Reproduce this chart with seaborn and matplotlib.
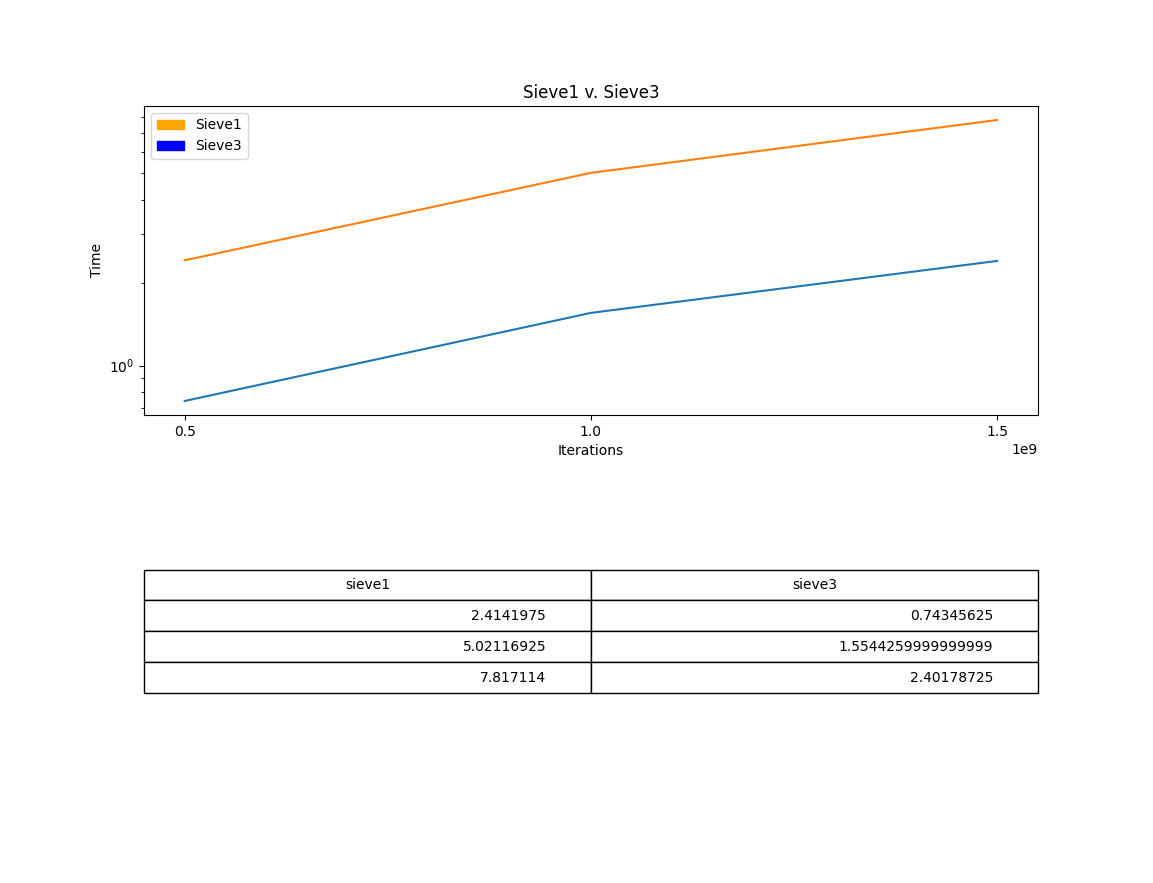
import matplotlib
matplotlib.use("Agg")
import matplotlib.pyplot as plt
import matplotlib.patches as mpatches
import seaborn as sns

iterations = [500000000, 1000000000, 1500000000]
sieve1 = [2.4141975, 5.02116925, 7.817114]
sieve3 = [0.74345625, 1.5544259999999999, 2.40178725]
col_labels = ["sieve1", "sieve3"]

fig, ax = plt.subplots(figsize=(11.53, 8.83), dpi=100)
fig.subplots_adjust(bottom=0.53)

sns.lineplot(x=iterations, y=sieve1, color="tab:orange", ax=ax)
sns.lineplot(x=iterations, y=sieve3, color="tab:blue", ax=ax)
ax.set_yscale("log")
ax.set_xticks([0.5e9, 1.0e9, 1.5e9])
ax.set_title("Sieve1 v. Sieve3")
ax.set_xlabel("Iterations")
ax.set_ylabel("Time")

handles = [mpatches.Patch(color="orange", label="Sieve1"),
           mpatches.Patch(color="blue", label="Sieve3")]
ax.legend(handles=handles, loc="upper left")

# table under the plot, one row per run
rows = [[repr(a), repr(b)] for a, b in zip(sieve1, sieve3)]
tbl = ax.table(cellText=rows, colLabels=col_labels,
               bbox=[0, -0.9, 1, 0.4])
tbl.auto_set_font_size(False)
tbl.set_fontsize(10)

plt.savefig("out.png", dpi=100)
